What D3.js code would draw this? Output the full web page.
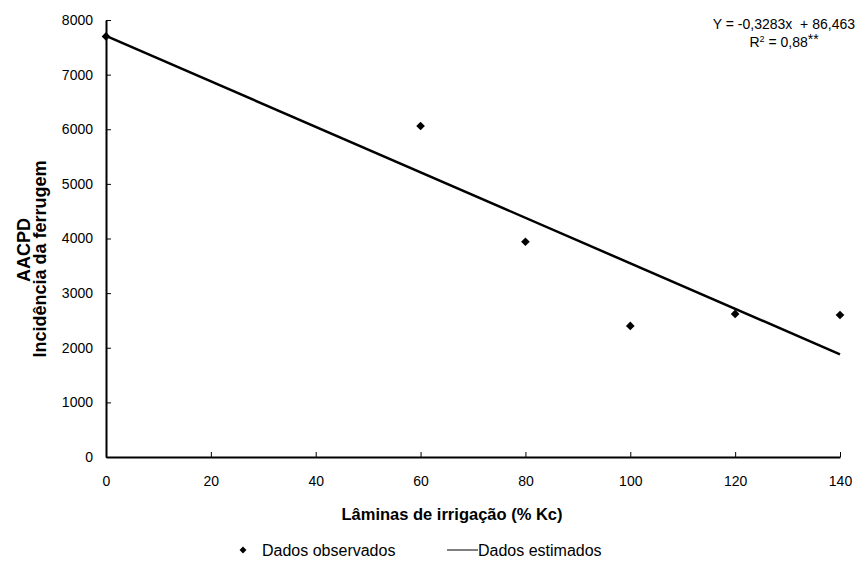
<!DOCTYPE html>
<html>
<head>
<meta charset="utf-8">
<script src="https://cdn.jsdelivr.net/npm/d3@7"></script>
<style>
  body { margin: 0; background: #fff; }
  text { font-family: "Liberation Sans", Arial, sans-serif; fill: #000; }
</style>
</head>
<body>
<div id="container"></div>
<script>
// observed points
let laminas = [0, 60, 80, 100, 120, 140];
let aacpd = [7700, 6060, 3940, 2400, 2620, 2600];
// estimated line (endpoints of fitted regression)
let estX = [0, 140];
let estY = [7710, 1880];
// ticks
let xTicks = [0, 20, 40, 60, 80, 100, 120, 140];
let yTicks = [0, 1000, 2000, 3000, 4000, 5000, 6000, 7000, 8000];

const w = 860;
const h = 567;
const padLeft = 106, padRight = 840, padTop = 20, padBottom = 457;

let svg = d3.select("#container").append("svg").attr("width", w).attr("height", h);

const xScale = d3.scaleLinear().domain([0, 140]).range([padLeft, padRight]);
const yScale = d3.scaleLinear().domain([0, 8000]).range([padBottom, padTop]);

//Axis
let x_axis = d3.axisBottom(xScale).tickValues(xTicks).tickSize(-5).tickPadding(0).tickSizeOuter(0);
let y_axis = d3.axisLeft(yScale).tickValues(yTicks).tickFormat(d3.format("d")).tickSize(-5).tickSizeOuter(0);

let gx = svg.append("g").attr("transform", "translate(0," + padBottom + ")").call(x_axis);
gx.select(".domain").attr("stroke-width", 2);
gx.selectAll(".tick text").attr("y", 29).attr("dy", 0).style("font-size", "14px");

let gy = svg.append("g").attr("transform", "translate(" + padLeft + ",0)").call(y_axis);
gy.select(".domain").attr("stroke-width", 2);
gy.selectAll(".tick text").attr("x", -13).style("font-size", "14px");

svg.selectAll(".domain").attr("stroke", "#000");
svg.selectAll(".tick line").attr("stroke", "#000");
svg.selectAll("g").attr("font-family", null);

//Estimated line
let line = d3.line().x((d) => xScale(d[0])).y((d) => yScale(d[1]));
svg.append("path")
  .datum(estX.map((x, i) => [x, estY[i]]))
  .attr("d", line)
  .attr("fill", "none")
  .attr("stroke", "#000")
  .attr("stroke-width", 2.5);

//Observed points
svg.selectAll(".pt")
  .data(laminas.map((x, i) => [x, aacpd[i]]))
  .enter()
  .append("path")
  .attr("class", "pt")
  .attr("d", d3.symbol(d3.symbolDiamond2, 48))
  .attr("transform", (d) => "translate(" + xScale(d[0]) + "," + yScale(d[1]) + ")")
  .attr("fill", "#000");

//Axis titles
svg.append("text")
  .attr("x", 452).attr("y", 520)
  .style("text-anchor", "middle")
  .style("font-size", "16.5px").style("font-weight", "bold")
  .text("Lâminas de irrigação (% Kc)");

svg.append("text")
  .attr("transform", "translate(30,250) rotate(-90)")
  .style("text-anchor", "middle")
  .style("font-size", "18px").style("font-weight", "bold")
  .text("AACPD");
svg.append("text")
  .attr("transform", "translate(46,259) rotate(-90)")
  .style("text-anchor", "middle")
  .style("font-size", "18px").style("font-weight", "bold")
  .text("Incidência da ferrugem");

//Equation
svg.append("text")
  .attr("x", 855).attr("y", 29)
  .attr("xml:space", "preserve")
  .style("text-anchor", "end")
  .style("font-size", "14px")
  .text("Y = -0,3283x  + 86,463");
let r2 = svg.append("text")
  .attr("x", 784).attr("y", 47)
  .style("text-anchor", "middle")
  .style("font-size", "14px");
r2.append("tspan").text("R");
r2.append("tspan").attr("dy", -5).style("font-size", "9px").text("2");
r2.append("tspan").attr("dy", 5).text(" = 0,88");
r2.append("tspan").attr("dy", -3).text("**");

//Legend
svg.append("path")
  .attr("d", d3.symbol(d3.symbolDiamond2, 30))
  .attr("transform", "translate(243,550)")
  .attr("fill", "#000");
svg.append("text").attr("x", 262).attr("y", 556).style("font-size", "16px").text("Dados observados");
svg.append("line")
  .attr("x1", 447).attr("x2", 478).attr("y1", 550).attr("y2", 550)
  .attr("stroke", "#000").attr("stroke-width", 1);
svg.append("text").attr("x", 478).attr("y", 556).style("font-size", "16px").text("Dados estimados");
</script>
</body>
</html>
